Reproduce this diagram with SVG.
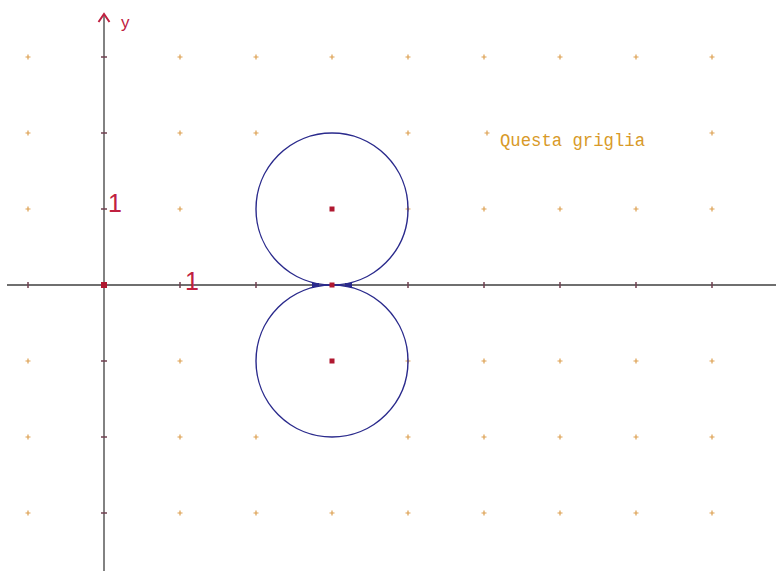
<svg xmlns="http://www.w3.org/2000/svg" width="776" height="571" viewBox="0 0 776 571">
<defs>
<style>
.g{stroke:#dda050;stroke-width:1.2}
.ax{stroke:#404040;stroke-width:1.3;fill:none}
.tk{stroke:#704050;stroke-width:1.5}
.c{fill:none;stroke:#2a2a8c;stroke-width:1.4}
.lbl{font-family:"Liberation Sans",Arial,sans-serif;fill:#c02040}
</style>
<g id="gp"><path class="g" d="M-2.5 0H2.5M0 -2.5V2.5"/></g>
</defs>
<rect width="776" height="571" fill="#ffffff"/>
<g id="grid">
<use href="#gp" x="28" y="57"/><use href="#gp" x="180" y="57"/><use href="#gp" x="256" y="57"/><use href="#gp" x="332" y="57"/><use href="#gp" x="408" y="57"/><use href="#gp" x="484" y="57"/><use href="#gp" x="560" y="57"/><use href="#gp" x="636" y="57"/><use href="#gp" x="712" y="57"/>
<use href="#gp" x="28" y="133"/><use href="#gp" x="180" y="133"/><use href="#gp" x="256" y="133"/><use href="#gp" x="408" y="133"/><use href="#gp" x="487" y="133"/><use href="#gp" x="712" y="133"/>
<use href="#gp" x="28" y="209"/><use href="#gp" x="180" y="209"/><use href="#gp" x="408" y="209"/><use href="#gp" x="484" y="209"/><use href="#gp" x="560" y="209"/><use href="#gp" x="636" y="209"/><use href="#gp" x="712" y="209"/>
<use href="#gp" x="28" y="361"/><use href="#gp" x="180" y="361"/><use href="#gp" x="408" y="361"/><use href="#gp" x="484" y="361"/><use href="#gp" x="560" y="361"/><use href="#gp" x="636" y="361"/><use href="#gp" x="712" y="361"/>
<use href="#gp" x="28" y="437"/><use href="#gp" x="180" y="437"/><use href="#gp" x="256" y="437"/><use href="#gp" x="408" y="437"/><use href="#gp" x="484" y="437"/><use href="#gp" x="560" y="437"/><use href="#gp" x="636" y="437"/><use href="#gp" x="712" y="437"/>
<use href="#gp" x="28" y="513"/><use href="#gp" x="180" y="513"/><use href="#gp" x="256" y="513"/><use href="#gp" x="332" y="513"/><use href="#gp" x="408" y="513"/><use href="#gp" x="484" y="513"/><use href="#gp" x="560" y="513"/><use href="#gp" x="636" y="513"/><use href="#gp" x="712" y="513"/>
</g>
<g id="axes">
<path class="ax" d="M7 285H776M104 14V571"/>
<path d="M98.5 22L104 14L109.5 22" fill="none" stroke="#c02040" stroke-width="2"/>
<path class="tk" d="M28 282V288M180 282V288M256 282V288M408 282V288M484 282V288M560 282V288M636 282V288M712 282V288"/>
<path class="tk" d="M101 57H107M101 133H107M101 209H107M101 361H107M101 437H107M101 513H107"/>
<text class="lbl" x="121" y="28" font-size="17">y</text>
<text x="108" y="212" font-family="'Liberation Sans',Arial,sans-serif" font-size="25" fill="#c02040">1</text>
<text x="185" y="290" font-family="'Liberation Sans',Arial,sans-serif" font-size="25" fill="#c02040">1</text>
</g>
<g id="circles">
<circle class="c" cx="332" cy="209" r="76"/>
<circle class="c" cx="332" cy="361" r="76"/>
<rect x="312" y="283" width="7" height="4" fill="#2a2a8c"/>
<rect x="345" y="283" width="7" height="4" fill="#2a2a8c"/>
</g>
<g id="points" fill="#b01830">
<rect x="101" y="282" width="6" height="6"/>
<rect x="329.5" y="206.5" width="5" height="5"/>
<rect x="329.5" y="282.5" width="5" height="5"/>
<rect x="329.5" y="358.5" width="5" height="5"/>
</g>
<text x="500" y="146" font-family="'Liberation Mono','Courier New',monospace" font-size="17.5" textLength="145" lengthAdjust="spacingAndGlyphs" fill="#d89a28">Questa griglia</text>
</svg>
